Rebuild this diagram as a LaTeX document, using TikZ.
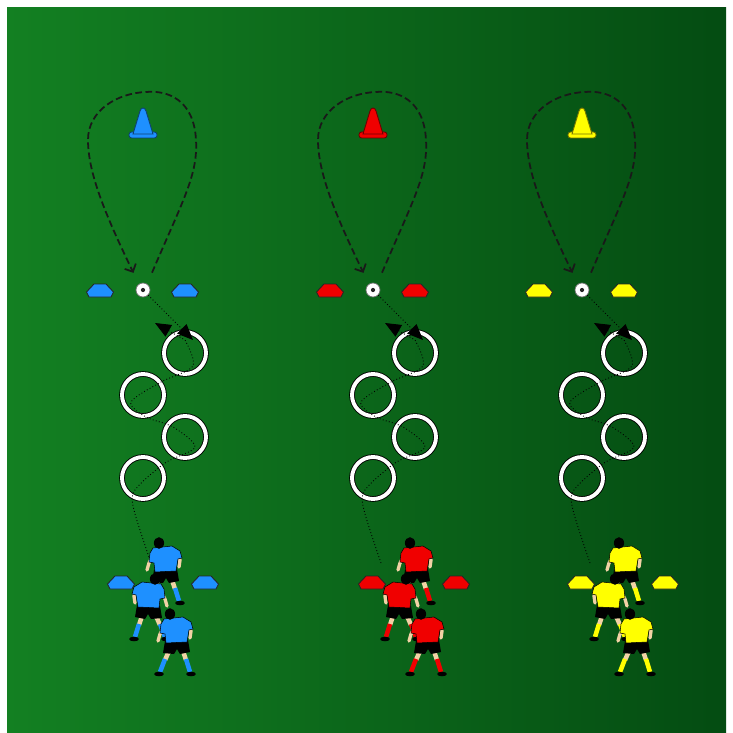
\documentclass[tikz,border=0pt]{standalone}
\usepackage{xcolor}
\usepackage{tikz}
\usetikzlibrary{arrows.meta}
\definecolor{pitchlight}{RGB}{19,128,34}
\definecolor{pitchmid}{RGB}{13,110,27}
\definecolor{pitchdark}{RGB}{4,76,18}
\definecolor{kitblue}{RGB}{30,144,255}
\definecolor{kitred}{RGB}{240,0,0}
\definecolor{kityellow}{RGB}{255,255,0}
\definecolor{skin}{RGB}{242,210,165}

\begin{document}
\begin{tikzpicture}[x=0.02cm, y=-0.02cm,
  ring/.style={circle, draw=black, double=white, double distance=2.2pt, line width=0.5pt, minimum size=0.84cm, inner sep=0pt},
  kickball/.style={circle, draw=black!55, fill=white, line width=0.4pt, minimum size=0.28cm, inner sep=0pt},
  lap/.style={draw=black!90, line width=1pt, dash pattern=on 3.8pt off 2pt, shorten <=7pt, shorten >=7pt, -{Straight Barb[length=3.5pt, width=7pt]}},
  run/.style={draw=black, line width=0.5pt, dash pattern=on 0.5pt off 1.3pt},
  pass/.style={run, -{Triangle[length=9pt, width=7.5pt]}},
  pics/saucer/.style={code={
    \filldraw[fill=#1, draw=black!85, line width=0.5pt] (-6,-7) -- (6,-7) -- (13.5,1) -- (11,6) -- (-11,6) -- (-13.5,1) -- cycle;}},
  pics/cone/.style={code={
    \filldraw[fill=#1, draw=#1!45!black, line width=0.5pt, rounded corners=1.5pt] (-14,-3) rectangle (14,3);
    \filldraw[fill=#1, draw=#1!45!black, line width=0.5pt] (-10,-1) -- (-3,-24) .. controls (-2,-28) and (2,-28) .. (3,-24) -- (10,-1) -- cycle;}},
  pics/player/.style={code={
    \draw[skin, line width=2.6pt] (-1,37) -- (-5,46);
    \draw[#1, line width=2.6pt] (-5,45) -- (-10,58);
    \fill[black] (-11,60) ellipse (2.8pt and 1.3pt);
    \draw[skin, line width=2.6pt] (13,37) -- (16,46);
    \draw[#1, line width=2.6pt] (16,45) -- (20,58);
    \fill[black] (21,60) ellipse (2.8pt and 1.3pt);
    \fill[black] (-5,27) -- (18,26) -- (20,38) -- (10,40) -- (7,35) -- (4,40) -- (-7,39) -- cycle;
    \draw[skin, line width=1.9pt, line join=round, line cap=round] (-6,12) -- (-10,20) -- (-12,27);
    \draw[skin, line width=1.9pt, line join=round, line cap=round] (18,10) -- (21,17) -- (20,24);
    \filldraw[fill=#1, draw=black, line width=0.3pt] (-6,5) -- (13,3) -- (21,8) -- (23,15) -- (19,16) -- (17,28) -- (-4,29) -- (-5,20) -- (-10,19) -- (-9,10) -- cycle;
    \fill[black] (0,0) ellipse (2.9pt and 3.3pt);}}]
\useasboundingbox (0,0) rectangle (733,733);
\fill[white] (0,0) rectangle (733,733);
\shade[left color=pitchlight, middle color=pitchmid, right color=pitchdark] (7,8) rectangle (726,733);

\foreach \col/\x/\g/\kit in {b/143/20/kitblue, r/373/41/kitred, y/582/41/kityellow} {
  \node[kickball] (ball-\col) at (\x,290) {};
  \fill[black!85] (ball-\col) circle (1.2pt);
  \coordinate (top-\col) at (\x+3,92);
  \draw[lap] (ball-\col.55) .. controls (\x+40,200) and (\x+55,175) .. (\x+53,140)
    .. controls (\x+51,100) and (\x+25,90) .. (top-\col)
    .. controls (\x-25,93) and (\x-55,110) .. (\x-55,140)
    .. controls (\x-55,175) and (\x-35,220) .. (ball-\col.125);
  \pic at (\x,135) {cone=\kit};
  \pic at (\x-43,291) {saucer=\kit};
  \pic at (\x+42,291) {saucer=\kit};

  \node[ring] (ring1-\col) at (\x+42,353) {};
  \node[ring] (ring2-\col) at (\x,395) {};
  \node[ring] (ring3-\col) at (\x+42,437) {};
  \node[ring] (ring4-\col) at (\x,478) {};

  \coordinate (aim-\col) at (\x+50,340);
  \coordinate (turn-\col) at (\x+12,323);
  \coordinate (start-\col) at (\x+8,563);
  \draw[pass] (ball-\col) -- (aim-\col);
  \draw[run, -{Triangle[length=9pt, width=7.5pt]}] plot[smooth, tension=0.5] coordinates {(start-\col) (\x-9,510) (\x-8,490) (\x+22,463) (\x+52,447) (\x+30,427) (\x+3,417) (\x-12,402) (\x+18,382) (\x+50,366) (\x+42,340)} -- (turn-\col);

  \pic at (\x+\g-42,583) {saucer=\kit};
  \pic at (\x+\g+42,583) {saucer=\kit};
  \pic at (\x+\g-4,543) {player=\kit};
  \pic[xscale=-1] at (\x+\g-8,579) {player=\kit};
  \pic at (\x+\g+7,614) {player=\kit};
}
\end{tikzpicture}
\end{document}
